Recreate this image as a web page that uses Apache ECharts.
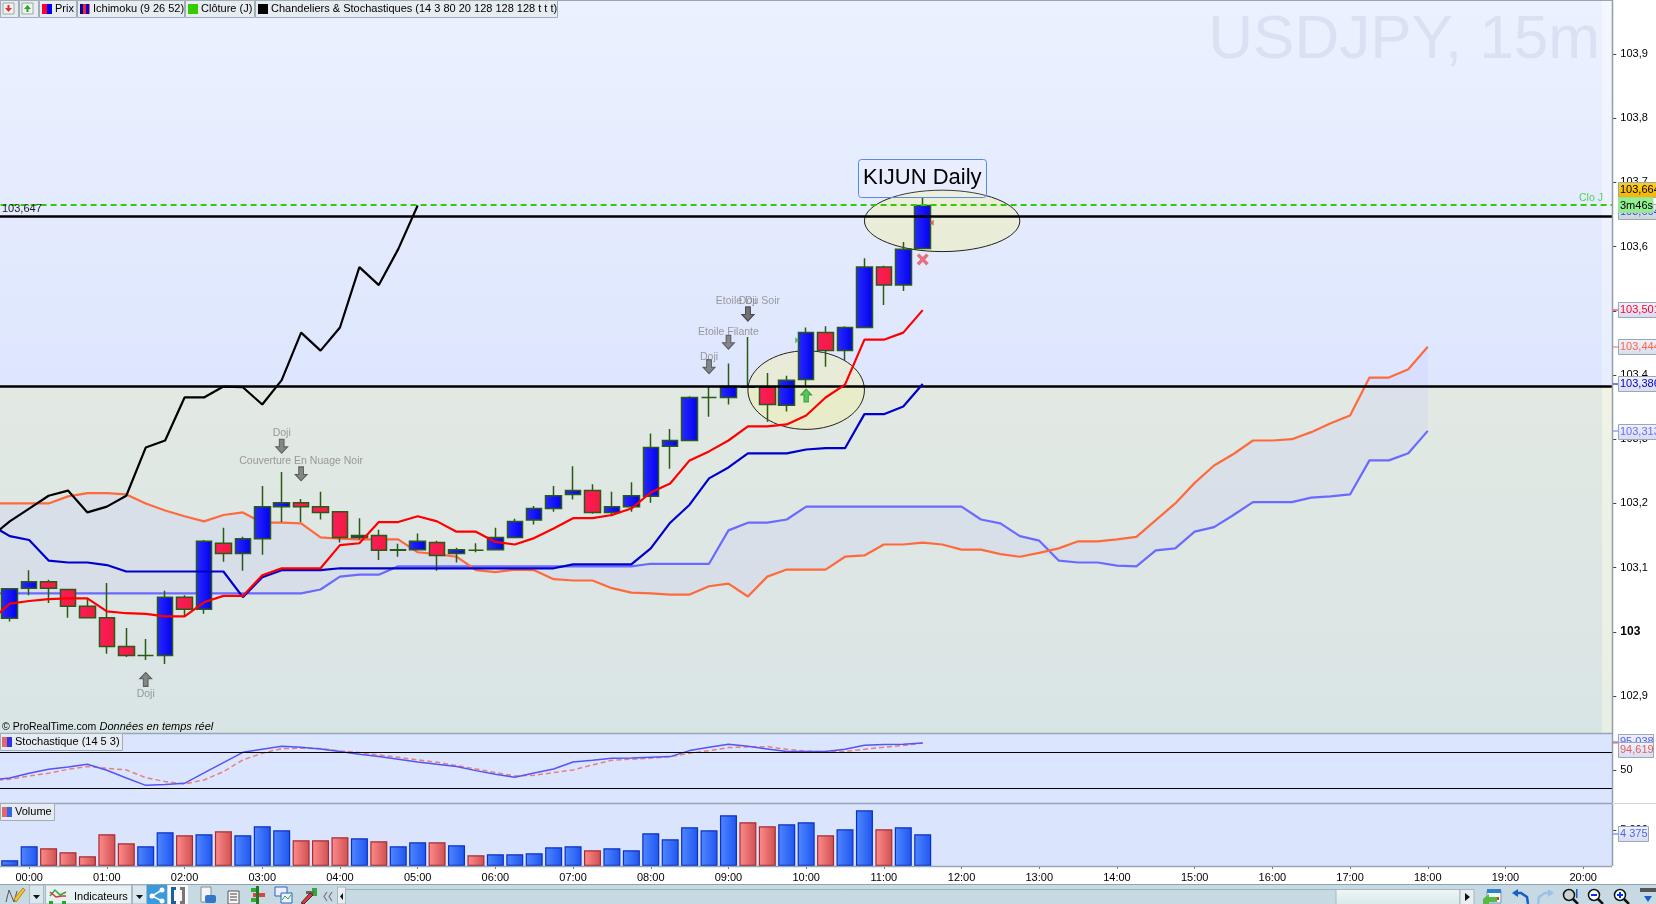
<!DOCTYPE html>
<html><head><meta charset="utf-8">
<style>html,body{margin:0;padding:0;background:#fff}#c{width:1656px;height:904px}</style>
<script src="https://cdn.jsdelivr.net/npm/echarts@6/dist/echarts.min.js"></script>
</head><body><div id="c"></div>
<script>
const categories = ['23:30','23:45',
'00:00','00:15','00:30','00:45','01:00','01:15','01:30','01:45','02:00','02:15','02:30','02:45',
'03:00','03:15','03:30','03:45','04:00','04:15','04:30','04:45','05:00','05:15','05:30','05:45',
'06:00','06:15','06:30','06:45','07:00','07:15','07:30','07:45','08:00','08:15','08:30','08:45',
'09:00','09:15','09:30','09:45','10:00','10:15','10:30','10:45','11:00','11:15','11:30','11:45',
'12:00','12:15','12:30','12:45','13:00','13:15','13:30','13:45','14:00','14:15','14:30','14:45',
'15:00','15:15','15:30','15:45','16:00','16:15','16:30','16:45','17:00','17:15','17:30','17:45',
'18:00','18:15','18:30','18:45','19:00','19:15','19:30','19:45','20:00','20:15'];
// candles start at 23:45
const candleOpen = [103.021,103.068,103.078,103.066,103.040,103.022,102.977,102.963,102.963,103.054,103.035,103.138,103.122,103.145,103.195,103.201,103.195,103.187,103.147,103.150,103.127,103.128,103.139,103.122,103.127,103.128,103.147,103.174,103.192,103.214,103.220,103.186,103.195,103.211,103.289,103.298,103.365,103.365,103.381,103.381,103.353,103.393,103.466,103.438,103.474,103.568,103.540,103.597];
const candleClose = [103.067,103.078,103.068,103.040,103.022,102.977,102.963,102.963,103.054,103.035,103.141,103.122,103.145,103.195,103.201,103.195,103.186,103.147,103.150,103.127,103.128,103.141,103.119,103.128,103.127,103.147,103.172,103.192,103.212,103.220,103.186,103.195,103.212,103.287,103.298,103.365,103.365,103.382,103.381,103.354,103.392,103.466,103.438,103.474,103.568,103.540,103.596,103.664];
const candleLow = [103.016,103.057,103.045,103.022,103.022,102.966,102.961,102.956,102.950,103.023,103.028,103.109,103.095,103.120,103.171,103.171,103.175,103.139,103.144,103.112,103.117,103.128,103.095,103.108,103.124,103.127,103.147,103.167,103.187,103.206,103.184,103.180,103.187,103.201,103.254,103.298,103.335,103.354,103.381,103.327,103.343,103.382,103.413,103.423,103.474,103.509,103.531,103.597];
const candleHigh = [103.067,103.096,103.081,103.066,103.051,103.076,103.006,102.989,103.064,103.057,103.143,103.162,103.148,103.227,103.249,103.207,103.218,103.187,103.177,103.159,103.137,103.153,103.142,103.131,103.138,103.162,103.176,103.196,103.227,103.258,103.230,103.218,103.233,103.309,103.316,103.367,103.382,103.418,103.459,103.403,103.399,103.474,103.476,103.476,103.582,103.570,103.607,103.677];
// Ichimoku lines start at 23:30
const tenkan = [103.017,103.044,103.048,103.051,103.052,103.052,103.032,103.029,103.028,103.024,103.024,103.046,103.056,103.056,103.088,103.099,103.099,103.099,103.135,103.138,103.171,103.171,103.180,103.172,103.156,103.156,103.140,103.136,103.146,103.161,103.177,103.177,103.182,103.192,103.217,103.231,103.267,103.281,103.298,103.320,103.320,103.323,103.337,103.365,103.385,103.455,103.455,103.466,103.501];
const kijun = [103.167,103.149,103.143,103.111,103.108,103.108,103.104,103.094,103.094,103.094,103.094,103.094,103.094,103.054,103.085,103.096,103.096,103.096,103.099,103.099,103.099,103.099,103.099,103.099,103.099,103.099,103.099,103.099,103.099,103.099,103.105,103.105,103.105,103.105,103.130,103.170,103.198,103.239,103.256,103.278,103.278,103.278,103.284,103.286,103.286,103.339,103.339,103.351,103.386];
const chikou = [103.147,103.172,103.192,103.212,103.220,103.186,103.195,103.212,103.287,103.298,103.365,103.365,103.382,103.381,103.354,103.392,103.466,103.438,103.474,103.568,103.540,103.596,103.664];
const senkouA = [103.200,103.200,103.200,103.200,103.211,103.216,103.216,103.214,103.200,103.189,103.180,103.172,103.182,103.186,103.170,103.170,103.169,103.147,103.145,103.144,103.144,103.144,103.124,103.121,103.117,103.096,103.093,103.097,103.096,103.082,103.080,103.080,103.068,103.061,103.060,103.058,103.058,103.071,103.075,103.055,103.086,103.097,103.097,103.097,103.117,103.119,103.136,103.136,103.139,103.136,103.128,103.128,103.121,103.117,103.123,103.130,103.141,103.141,103.144,103.148,103.174,103.200,103.232,103.259,103.277,103.298,103.298,103.300,103.311,103.325,103.337,103.396,103.396,103.409,103.444];
const senkouB = [103.060,103.060,103.060,103.060,103.060,103.060,103.060,103.060,103.060,103.060,103.060,103.060,103.060,103.060,103.060,103.060,103.060,103.066,103.086,103.089,103.089,103.102,103.102,103.102,103.102,103.102,103.102,103.102,103.102,103.102,103.102,103.102,103.102,103.102,103.106,103.106,103.106,103.106,103.158,103.170,103.170,103.175,103.195,103.195,103.195,103.195,103.195,103.195,103.195,103.195,103.195,103.175,103.169,103.149,103.142,103.111,103.108,103.108,103.103,103.102,103.127,103.130,103.156,103.163,103.182,103.202,103.202,103.202,103.209,103.211,103.214,103.267,103.267,103.278,103.313];
const stochK = [33.3,36.7,44.4,51.1,55,59.4,49.4,36.7,24.4,25.6,27.8,45,62.2,79.4,84.4,89.4,87.8,85,80.6,76.1,72.2,67.8,63.3,59.4,55.6,48.9,42.8,37.8,45,51.7,63.3,66.1,69.4,70,71.1,72.2,82.2,87.8,92.8,89.4,85,80.6,80.6,80.6,84.4,91.1,92.2,92.8,95.038];
const stochD = [32.2,34.4,40,44.4,51.1,55.6,52.8,50,37.2,30.6,26.7,33.3,47.2,66.7,77.8,85.6,86.1,85.6,81.7,78.9,75,71.1,66.7,62.8,57.2,51.7,45.6,40,41.1,45.6,50,58.3,66.1,67.8,69.4,72.2,77.8,82.2,87.2,88.3,88.9,84.4,81.1,80.6,80.6,84.4,87.8,90.6,94.619];
// volumes start at 23:45
const volume = [783,2717,2441,1888,1335,4375,3131,2717,4651,4237,4375,4789,4237,5480,4927,3546,3546,3960,3822,3408,2717,3270,3270,2855,1474,1612,1612,1750,2579,2717,2164,2441,2164,4513,3684,5342,4927,7000,6033,5480,5756,6033,4237,5066,7690,5066,5342,4375];
const volumeSide = ('bbrrrrrbbrbrbbbrrrbrbbrbrbbbb'+'brbbbbbbbrrbbrbbrbb').split('');
const priceTicks = [102.9,103,103.1,103.2,103.3,103.4,103.5,103.6,103.7,103.8,103.9];
const stochTicks = [50];
const volumeTicks = [5000];
const levelKijunDaily = 103.648, levelSupport = 103.383, levelClose = 103.665;
const patternRows = [
 ['01:30',102.926,'up','Doji'],['03:15',103.289,'down','Doji'],['03:30',103.246,'down','Couverture En Nuage Noir'],
 ['08:45',103.413,'down','Doji'],['09:00',103.451,'down','Etoile Filante'],['09:15',103.495,'down','Doji'],['09:15',103.495,'down','Etoile Du Soir']];
const ellipseRows = [['10:00',103.3765,3,0.0612],['11:45',103.640,4,0.0478]];

const F = '"Liberation Sans",Arial,sans-serif';
const N = categories.length;
const pad = (arr, start) => { const o = new Array(N).fill('-'); arr.forEach((v,i)=>{o[start+i]=v;}); return o; };
const candleData = new Array(N).fill(['-','-','-','-']).map((d,k)=>{const i=k-1; return (i>=0&&i<candleOpen.length)?[candleOpen[i],candleClose[i],candleLow[i],candleHigh[i]]:d;});
const lower = senkouA.map((a,i)=>Math.min(a,senkouB[i]));
const gap = senkouA.map((a,i)=>+Math.abs(a-senkouB[i]).toFixed(3));
const H = (c0,c1)=>({type:'linear',x:0,y:0,x2:1,y2:0,colorStops:[{offset:0,color:c0},{offset:1,color:c1}]});
const V = (c0,c1)=>({type:'linear',x:0,y:0,x2:0,y2:1,colorStops:[{offset:0,color:c0},{offset:1,color:c1}]});
const arrowUp='path://M5 0L10 6L7 6L7 13L3 13L3 6L0 6Z', arrowDown='path://M3 0L7 0L7 7L10 7L5 13L0 7L3 7Z';
const cross='path://M2 0L5 3L8 0L10 2L7 5L10 8L8 10L5 7L2 10L0 8L3 5L0 2Z';
const labelGaps=[2,0,0,-3,-3,0,0];

const G=[];
const rect=(x,y,w,h,fill,z,stroke,r)=>G.push({type:'rect',z:z===undefined?50:z,silent:true,shape:{x,y,width:w,height:h,r:r||0},style:{fill,stroke:stroke||null,lineWidth:stroke?1:0}});
const text=(x,y,t,fill,size,opt)=>G.push({type:'text',z:(opt&&opt.z)||60,silent:true,x,y,style:{text:t,fill,font:(opt&&opt.font)||(size+'px '+F),textVerticalAlign:'middle',textAlign:(opt&&opt.align)||'left'}});
const line=(x1,y1,x2,y2,c,w,z)=>G.push({type:'line',z:z===undefined?55:z,silent:true,shape:{x1,y1,x2,y2},style:{stroke:c,lineWidth:w||1}});
const poly=(pts,fill,stroke,w,z)=>G.push({type:fill?'polygon':'polyline',z:z===undefined?60:z,silent:true,shape:{points:pts},style:{fill:fill||null,stroke:stroke||null,lineWidth:w||0}});

// pane backgrounds
rect(0,0,1612,386,V('#ebf1fe','#dee6fe'),-10);
rect(0,386,1612,347,V('#e2e9e3','#d9e4e5'),-10);
rect(1602,0,10,386,V('#f4f7ff','#e9eefe'),-9);
rect(1602,386,10,347,V('#f0f3e6','#e9eee4'),-9);
rect(0,733,1612,70,'#dce5fe',-10);
rect(0,803,1612,63,'#dbe4fd',-10);
// watermark
text(1600,41,'USDJPY, 15m','#dbe1f2',62,{align:'right',z:-5});
// pane separators
line(0,733.5,1612,733.5,'#96a6b6',1.5,40);
line(0,803.5,1612,803.5,'#96a6b6',1.5,40);
line(0,866.5,1612,866.5,'#96a6b6',1.5,40);
line(1612.5,0,1612.5,866,'#8fa0ac',1.5,40);
line(0,0.5,1612,0.5,'#96a6b0',1,40);
// top chips
const chip=(x,w,y,h)=>rect(x+.5,y+.5,w,h,'#e6ecf2',45,'#a0aeb6');
chip(0,18,0,17);chip(19,19,0,17);chip(39,37,0,17);chip(77,107,0,17);chip(185,69,0,17);chip(255,302,0,17);
rect(3,3,11,11,'#f2f2f2',50,'#9aa');poly([[5,8],[12,8],[8.5,12]],'#e53030');rect(7.5,5,2,4,'#e53030');
rect(22,3,11,11,'#f2f2f2',50,'#9aa');poly([[24,9],[31,9],[27.5,5]],'#22aa22');rect(26.5,8,2,4,'#22aa22');
rect(42,4,5,10,'#ff0033',50);rect(47,4,5,10,'#0000ff',50);
text(55,9,'Prix','#000',11);
rect(80,4,3,10,'#0000aa',50);rect(83,4,3,10,'#ff2020',50);rect(86,4,3,10,'#0000ee',50);rect(89,4,1,10,'#ff6030',50);
text(93,9,'Ichimoku (9 26 52)','#000',11);
rect(188,4,10,10,'#33cc00',50);text(201,9,'Clôture (J)','#000',11);
rect(258,4,10,10,'#000',50);text(271,9,'Chandeliers & Stochastiques (14 3 80 20 128 128 128 t t t)','#000',11);
// left labels
text(2,208.5,'103,647','#222',11);
text(2,727,'© ProRealTime.com','#000',10.5);
text(99.5,727,'Données en temps réel','#000',11,{font:'italic 11px '+F});
// indicator chips
chip(0,122,733,17);rect(2,737,5,10,'#e06868',50);rect(7,737,5,10,'#3333ee',50);text(15,742,'Stochastique (14 5 3)','#000',11);
chip(0,54,803,17);rect(2,807,5,10,'#e06868',50);rect(7,807,5,10,'#3366ee',50);text(15,812,'Volume','#000',11);
// KIJUN box
rect(858.5,159.5,128,38,'rgba(255,255,255,0.12)',50,'#5a8ae0',3);
text(863,178,'KIJUN Daily','#000',22);
text(1579,198,'Clo J','#55d055',10.5);
// right strip tags
let tagZ=70;
const tag=(x,y,w,h,t,col,bg,tickCol,tickY)=>{tagZ+=2;rect(x+.5,y+.5,w,h,bg,tagZ,'#9aa8b4');G.push({type:'text',z:tagZ+1,silent:true,x:x+2,y:y+h/2+.5,style:{text:t,fill:col,font:'11px '+F,textVerticalAlign:'middle'}});if(tickCol)line(1613,tickY,x,tickY,tickCol,1,70);};
const tagBg=V('#f2f2fb','#d8dcf2');
tag(1618,204,39,15,'103,664','#4040e0',V('#e8eef0','#c8d4d8'));
tag(1618,182,39,15,'103,664','#000',V('#ffcc22','#f4b400'));
rect(1618.5,197.5,34.5,15,'#92ee92',90,'#9adf9a');
G.push({type:'text',z:91,silent:true,x:1620,y:205.5,style:{text:'3m46s',fill:'#000',font:'11px '+F,textVerticalAlign:'middle'}});
tag(1618,302,39,15,'103,501','#ff0033',tagBg,'#ff0033',310);
tag(1618,339,39,15,'103,444','#ff6a3c',tagBg,'#ff6a3c',347);
tag(1618,376,39,15,'103,386','#0000cc',tagBg,'#0000cc',384);
tag(1618,424,39,15,'103,313','#6a6aff',tagBg,'#6a6aff',431);
tag(1618,734,35,15,'95,038','#5060f0',tagBg,'#5060f0',742);
tag(1618,742,35,15,'94,619','#e06060',tagBg,'#e06060',743);
tag(1618,826,30,15,'4 375','#4466ff',tagBg,'#4466ff',834);
line(1612,803.5,1656,803.5,'#d6d6d6',1,40);
// toolbar
rect(0,884,1656,20,'#c7d9e3',40);
line(0,884.5,1656,884.5,'#8fa3ae',1,41);
line(345,889.5,1336,889.5,'#9fb2bc',1,41);
rect(1336,889.5,124,15,V('#f0f7f6','#d8e8ea'),41,'#a8b8c0');
rect(1460,889.5,14,15,'#e8eef2',41,'#a8b8c0');
poly([[1465,893],[1465,901],[1470,897]],'#111');
rect(29.5,885,14,19,'#dbe7ee',41,'#aab8c0');poly([[33,895],[40,895],[36.5,899]],'#111');
rect(45.5,885,86,19,'#e8f0f4',41,'#aab8c0');
text(74,897,'Indicateurs','#000',11);
poly([[50,896],[55,890],[60,895],[66,892]],null,'#33aa33',1.5);poly([[50,892],[56,897],[62,896],[66,896]],null,'#dd3333',1.5);rect(49,901,4,3,'#22aa22');rect(62,901,4,3,'#22aa22');
rect(132.5,885,14,19,'#dbe7ee',41,'#aab8c0');poly([[136,895],[143,895],[139.5,899]],'#111');
// pencil & other icons
poly([[6,902],[9,890],[14,902],[17,891]],null,'#555',1);poly([[14,899],[23,888],[25,890],[16,902]],'#f4c430','#b08820',1);
rect(147,885,20,19,'#3a9bdc',41);G.push({type:'circle',z:62,silent:true,shape:{cx:152,cy:896,r:2.5},style:{fill:'#fff'}});G.push({type:'circle',z:62,silent:true,shape:{cx:162,cy:890,r:2.5},style:{fill:'#fff'}});G.push({type:'circle',z:62,silent:true,shape:{cx:162,cy:901,r:2.5},style:{fill:'#fff'}});poly([[162,890],[152,896],[162,901]],null,'#fff',1.5,61);
rect(168,885,20,19,'#fafafa',41);rect(171,887,3,17,'#1f5f96',50);rect(174,887,2,3,'#1f5f96',50);rect(174,901,2,3,'#1f5f96',50);rect(182,887,3,17,'#777',50);rect(180,887,2,3,'#777',50);rect(180,901,2,3,'#777',50);
rect(201,887,10,15,'#f4f4f4',50,'#889');rect(205,895,11,8,'#3377cc',51,null,2);
rect(228,891,11,13,'#f6f6f6',50,'#555');line(230,894,237,894,'#444',1);line(230,897,237,897,'#444',1);line(230,900,237,900,'#444',1);
rect(251,888,8,4,'#33aa33',50);rect(253,893,12,4,'#dd4444',50);rect(251,898,8,4,'#33aa33',50);rect(256,886,3,18,'#227722',50);
rect(275,887,12,9,'#eef',50,'#2266bb');rect(281,893,11,10,'#eef',51,'#2266bb');poly([[282,900],[285,896],[288,899],[291,895]],null,'#33aa33',1,62);
rect(312,888,5,8,'#33aa33',50);poly([[301,903],[310,893],[313,895],[304,904]],'#ee3333','#333',1);rect(306,891,8,3,'#666',52);
poly([[327,892],[324,896.5],[327,901]],null,'#777',1.2);poly([[332,892],[329,896.5],[332,901]],null,'#777',1.2);
rect(337.5,887,8,17,'#e8eef2',41,'#a8b8c0');poly([[343,893],[343,900],[340,896.5]],'#111');
// right icons
rect(1487,891,14,12,'#f4f6fa',50,'#7799bb');rect(1487,889,14,4,'#2f82c8',51);rect(1496,897,3,3,'#dd3333',52);poly([[1483,899],[1489,894],[1489,897],[1497,897],[1497,902],[1489,902],[1489,904],[1483,904]],'#55bb44',null,0,53);
poly([[1528,904],[1527,897],[1521,893],[1516,893]],null,'#1560c8',2.5);poly([[1518,889],[1512,893],[1518,897]],'#1560c8');
poly([[1538,904],[1539,897],[1545,893],[1550,893]],null,'#9cc0e8',2.5);poly([[1548,889],[1554,893],[1548,897]],'#9cc0e8');
const mag=(cx,col,sym)=>{G.push({type:'circle',z:60,silent:true,shape:{cx,cy:895,r:5.5},style:{fill:col,stroke:'#111',lineWidth:1.5}});line(cx+4,899,cx+9,904,'#111',2.5,61);if(sym){rect(cx-3,894,6,2,'#0033ee',62);if(sym==='+')rect(cx-1,892,2,6,'#0033ee',62);}};
mag(1569,'#d0d0d0');mag(1594,'#fff','-');mag(1620,'#fff','+');
rect(1576,889,1.5,9,'#1560c8',60);rect(1640,888,16,4,'#555',60);poly([[1644,896],[1652,896],[1648,902]],'#1560c8');

const xBase={type:'category',data:categories,boundaryGap:true,axisLine:{show:false},axisTick:{show:false},axisLabel:{show:false},splitLine:{show:false}};
const yBase={position:'right',type:'value',splitLine:{show:false},axisLine:{show:false}};
const isHour=(i,v)=>/:00$/.test(v);
const L=(name,data,color,w,extra)=>Object.assign({type:'line',name,data,xAxisIndex:0,yAxisIndex:0,symbol:'none',silent:true,z:5,lineStyle:{color,width:w}},extra||{});

const option={
 animation:false,
 textStyle:{fontFamily:F},
 graphic:{elements:G},
 grid:[
  {left:-19.4,width:1631.7,top:0,height:733.3,outerBoundsMode:'none'},
  {left:-19.4,width:1631.7,top:733.3,height:70,outerBoundsMode:'none'},
  {left:-19.4,width:1631.7,top:803.3,height:62.7,outerBoundsMode:'none'}],
 xAxis:[
  Object.assign({},xBase,{gridIndex:0}),
  Object.assign({},xBase,{gridIndex:1}),
  Object.assign({},xBase,{gridIndex:2,
    axisTick:{show:true,alignWithLabel:true,interval:isHour,length:3,lineStyle:{color:'#777'}},
    axisLabel:{show:true,interval:isHour,color:'#000',fontSize:11,fontFamily:F,margin:6}})],
 yAxis:[
  Object.assign({},yBase,{gridIndex:0,min:102.842,max:103.984,
    axisTick:{show:true,length:4,customValues:priceTicks,lineStyle:{color:'#444'}},
    axisLabel:{show:true,customValues:priceTicks,margin:8,color:'#000',fontSize:11,fontFamily:F,
      formatter:v=>Math.abs(v-103)<1e-6?'{b|103}':v.toFixed(1).replace('.',','),
      rich:{b:{fontWeight:'bold',fontSize:12,color:'#000',fontFamily:F}}}}),
  Object.assign({},yBase,{gridIndex:1,min:-5.5,max:111,
    axisTick:{show:true,length:4,customValues:stochTicks,lineStyle:{color:'#444'}},
    axisLabel:{show:true,customValues:stochTicks,margin:8,color:'#000',fontSize:11,fontFamily:F}}),
  Object.assign({},yBase,{gridIndex:2,min:0,max:8660,
    axisTick:{show:true,length:4,customValues:volumeTicks,lineStyle:{color:'#444'}},
    axisLabel:{show:true,customValues:volumeTicks,margin:8,color:'#000',fontSize:11,fontFamily:F,formatter:()=>'5 000'}})],
 series:[
  {type:'custom',name:'zones',xAxisIndex:0,yAxisIndex:0,z:1,silent:true,clip:false,
   data:ellipseRows.map(r=>[categories.indexOf(r[0]),r[1],r[2],r[3]]),encode:{x:0,y:1},
   renderItem:(p,api)=>{const c=api.coord([api.value(0),api.value(1)]);const band=api.size([1,0])[0];const rx=band*api.value(2);const ry=api.size([0,api.value(3)])[1];
     return {type:'ellipse',shape:{cx:c[0],cy:c[1],rx,ry},style:{fill:'rgba(240,240,175,0.5)',stroke:'#222',lineWidth:1}};}},
  {type:'line',name:'kumoBase',data:pad(lower,0),stack:'kumo',symbol:'none',silent:true,z:2,lineStyle:{width:0}},
  {type:'line',name:'kumoFill',data:pad(gap,0),stack:'kumo',symbol:'none',silent:true,z:2,lineStyle:{width:0},areaStyle:{color:'rgba(185,185,255,0.25)'}},
  L('senkouB',pad(senkouB,0),'#6a6aff',2.2,{z:3}),
  L('senkouA',pad(senkouA,0),'#ff6a3c',2.2,{z:3}),
  {type:'candlestick',name:'Prix',data:candleData,barWidth:16,z:4,silent:true,
   itemStyle:{color:H('#2a2aff','#0000ee'),color0:H('#ff1a5e','#f01c3c'),borderColor:'#2a5a14',borderColor0:'#2a5a14',borderColorDoji:'#2a5a14',borderWidth:1.5}},
  L('kijun',pad(kijun,0),'#0000cc',2.2),
  L('tenkan',pad(tenkan,0),'#ff0000',2.2),
  L('chikou',pad(chikou,0),'#000',2.2),
  {type:'line',name:'levels',data:[],silent:true,z:6,symbol:'none',
   markLine:{silent:true,symbol:'none',animation:false,precision:3,label:{show:false},
    data:[{yAxis:levelKijunDaily,lineStyle:{color:'#000',width:2.5,type:'solid'}},
          {yAxis:levelSupport,lineStyle:{color:'#000',width:2.5,type:'solid'}},
          {yAxis:levelClose,lineStyle:{color:'#33cc00',width:2,type:[6,4]}}]}},
  {type:'scatter',name:'patterns',z:7,silent:true,
   data:patternRows.map((r,i)=>({value:[r[0],r[1]],symbol:r[2]==='up'?arrowUp:arrowDown,
     label:{show:true,formatter:r[3],position:r[2]==='up'?'bottom':'top',distance:labelGaps[i],color:'#858585',fontSize:10.5,fontFamily:F}})),
   symbolSize:[12,14],itemStyle:{color:'#6e6e6e',borderColor:'#444',borderWidth:1}},
  {type:'scatter',name:'signals',z:7,silent:true,
   data:[
    {value:['10:00',103.368],symbol:arrowUp,symbolSize:[11,13],itemStyle:{color:'#28c040',borderColor:'#2a8a2a',borderWidth:1}},
    {value:['11:30',103.580],symbol:cross,symbolSize:[12,12],itemStyle:{color:'#e8505c'}},
    {value:['10:00',103.454],symbol:'triangle',symbolRotate:-90,symbolOffset:[-9,0],symbolSize:[6,4],itemStyle:{color:'#2db52d'}},
    {value:['11:30',103.637],symbol:'triangle',symbolRotate:90,symbolOffset:[9,0],symbolSize:[6,4],itemStyle:{color:'#e04040'}}]},
  {type:'line',name:'stochD',xAxisIndex:1,yAxisIndex:1,data:pad(stochD,0),symbol:'none',silent:true,z:3,lineStyle:{color:'#e88080',width:1.5,type:[5,3]}},
  {type:'line',name:'stochK',xAxisIndex:1,yAxisIndex:1,data:pad(stochK,0),symbol:'none',silent:true,z:4,lineStyle:{color:'#5555f0',width:1.5},
   markLine:{silent:true,symbol:'none',animation:false,label:{show:false},lineStyle:{color:'#000',width:1.2,type:'solid'},data:[{yAxis:80},{yAxis:20}]}},
  {type:'bar',name:'Volume',xAxisIndex:2,yAxisIndex:2,barWidth:17,silent:true,z:3,
   data:pad(volume,1).map((v,k)=>{if(v==='-')return '-';const up=volumeSide[k-1]==='b';
     return {value:v,itemStyle:{color:up?H('#5088ff','#1f55f0'):H('#ff8c8c','#cf5050'),borderColor:up?'#0a30c0':'#a82a30',borderWidth:1.2}};})}
 ]
};
const chart=echarts.init(document.getElementById('c'),null,{renderer:'canvas',width:1656,height:904});
chart.setOption(option);
</script></body></html>
